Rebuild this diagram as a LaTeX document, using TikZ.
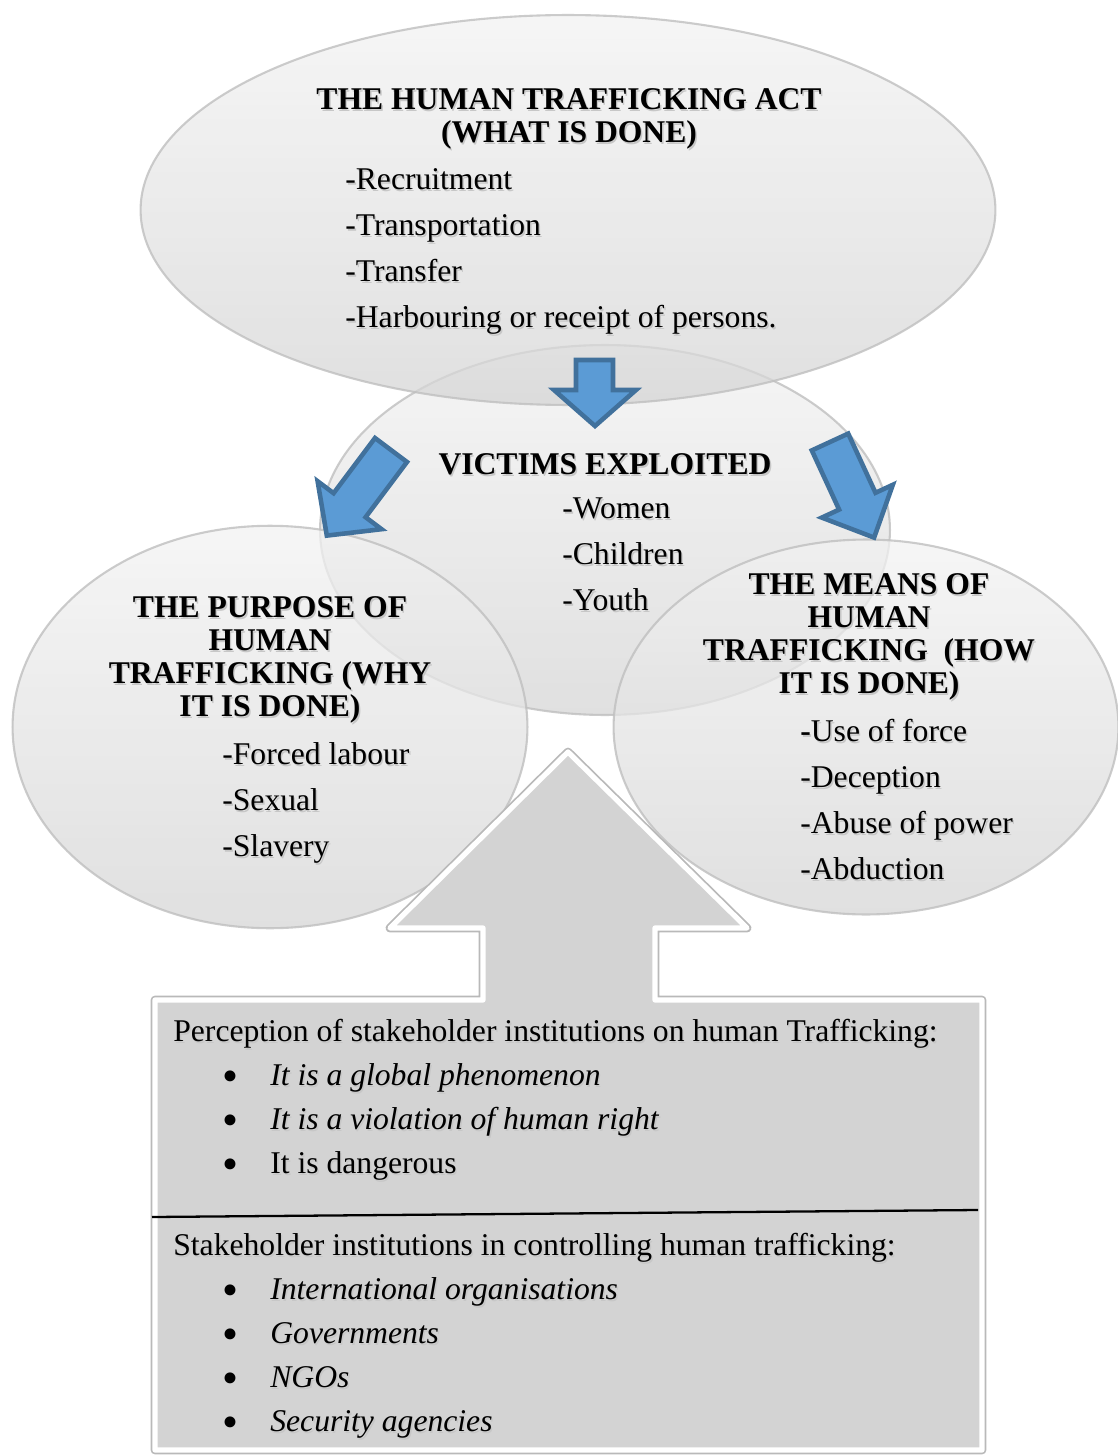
\documentclass[tikz,border=0pt]{standalone}
\usepackage{fontspec}
\setmainfont{Liberation Serif}
\usetikzlibrary{shapes.geometric}
\definecolor{arrowblue}{HTML}{5B9BD5}
\definecolor{arrowedge}{HTML}{41719C}
\definecolor{boxgray}{HTML}{D3D3D3}
\newcommand\shd[1]{\leavevmode\rlap{\kern0.8pt\raisebox{-1.3pt}{\textcolor{black!22}{#1}}}#1}
\tikzset{
  bubble/.style={ellipse, draw=gray!50, line width=1.2pt, top color=gray!10, bottom color=gray!33,
    fill opacity=0.74, draw opacity=0.8},
  headtext/.style={font=\fontsize{18}{18.7}\selectfont\bfseries, align=center, inner sep=0pt},
  itemtext/.style={font=\fontsize{18}{22}\selectfont, anchor=west, text height=0.7em, text depth=0.2em, inner sep=0pt},
  dot/.style={font=\fontsize{26}{26}\selectfont, inner sep=0pt},
  bluearrow/.style={fill=arrowblue, draw=arrowedge, line width=2.6pt, line join=miter},
  panelrim/.style={draw=gray!55, line width=5pt, line join=round},
  panel/.style={fill=boxgray, draw=white, line width=3pt, line join=round},
}
\begin{document}
\begin{tikzpicture}[x=0.02cm,y=-0.02cm]
\useasboundingbox (0,0) rectangle (1118,1456);
% Bubbles
\node[bubble, minimum width=11.4cm, minimum height=7.4cm] (victims) at (605,530) {};
\node[bubble, minimum width=17.1cm, minimum height=7.8cm] (act) at (568,210) {};
\node[bubble, minimum width=10.3cm, minimum height=8.05cm] (purpose) at (270,727) {};
\node[bubble, minimum width=10.1cm, minimum height=7.5cm] (means) at (866,727) {};
% Blue arrows
\draw[bluearrow] (576,360) -- (613,360) -- (613,390) -- (636,390) -- (595,426) -- (554,390) -- (576,390) -- cycle;
\draw[bluearrow] (375,438) -- (407,462) -- (365.6,517.2) -- (381.6,529.2) -- (326.8,535.6)
  -- (317.6,481.2) -- (333.6,493.2) -- cycle;
\draw[bluearrow] (811.8,450.4) -- (848.2,433.6) -- (875.5,492.8) -- (892.8,484.8) -- (874.1,537.6)
  -- (821.8,517.6) -- (839.1,509.6) -- cycle;
% Up arrow and box
\draw[panelrim] (155,1000) -- (483,1000) -- (483,928) -- (390,928) -- (568,752) -- (747,928)
  -- (655,928) -- (655,1000) -- (982,1000) -- (982,1450) -- (155,1450) -- cycle;
\draw[panel] (155,1000) -- (483,1000) -- (483,928) -- (390,928) -- (568,752) -- (747,928)
  -- (655,928) -- (655,1000) -- (982,1000) -- (982,1450) -- (155,1450) -- cycle;
\draw[line width=1.3pt] (152,1217) -- (978,1210);
% Act
\node[headtext] (acttitle) at (569,120) {\shd{THE HUMAN TRAFFICKING ACT}\\\shd{(WHAT IS DONE)}};
\foreach \t [count=\i] in {Recruitment, Transportation, Transfer, Harbouring or receipt of persons.}
  \node[itemtext] (act\i) at (345,139+46*\i) {\shd{-\t}};
% Victims
\node[headtext] (victimstitle) at (605,465) {\shd{VICTIMS EXPLOITED}};
\foreach \t [count=\i] in {Women, Children, Youth}
  \node[itemtext] (victims\i) at (562,468+46*\i) {\shd{-\t}};
% Purpose
\node[headtext] (purposetitle) at (270,661)
  {\shd{THE PURPOSE OF}\\\shd{HUMAN}\\\shd{TRAFFICKING (WHY}\\\shd{IT IS DONE)}};
\foreach \t [count=\i] in {Forced labour, Sexual, Slavery}
  \node[itemtext] (purpose\i) at (222,714+46*\i) {\shd{-\t}};
% Means
\node[headtext] (meanstitle) at (869,638)
  {\shd{THE MEANS OF}\\\shd{HUMAN}\\\shd{TRAFFICKING~ (HOW}\\\shd{IT IS DONE)}};
\foreach \t [count=\i] in {{\textbf{-}Use of force}, -Deception, -Abuse of power, -Abduction}
  \node[itemtext] (means\i) at (800,691+46*\i) {\shd{\t}};
% Perception
\node[itemtext] (perception) at (173,1037) {\shd{Perception of stakeholder institutions on human Trafficking:}};
\foreach \t [count=\i] in {\textit{It is a global phenomenon}, \textit{It is a violation of human right}, It is dangerous} {
  \node[dot] (pbullet\i) at (230,1037+44*\i) {\textbullet};
  \node[itemtext] (pitem\i) at (270,1037+44*\i) {\shd{\t}};
}
% Stakeholders
\node[itemtext] (stakeholders) at (173,1251) {\shd{Stakeholder institutions in controlling human trafficking:}};
\foreach \t [count=\i] in {International organisations, Governments, NGOs, Security agencies} {
  \node[dot] (sbullet\i) at (230,1251+44*\i) {\textbullet};
  \node[itemtext] (sitem\i) at (270,1251+44*\i) {\shd{\textit{\t}}};
}
\end{tikzpicture}
\end{document}
